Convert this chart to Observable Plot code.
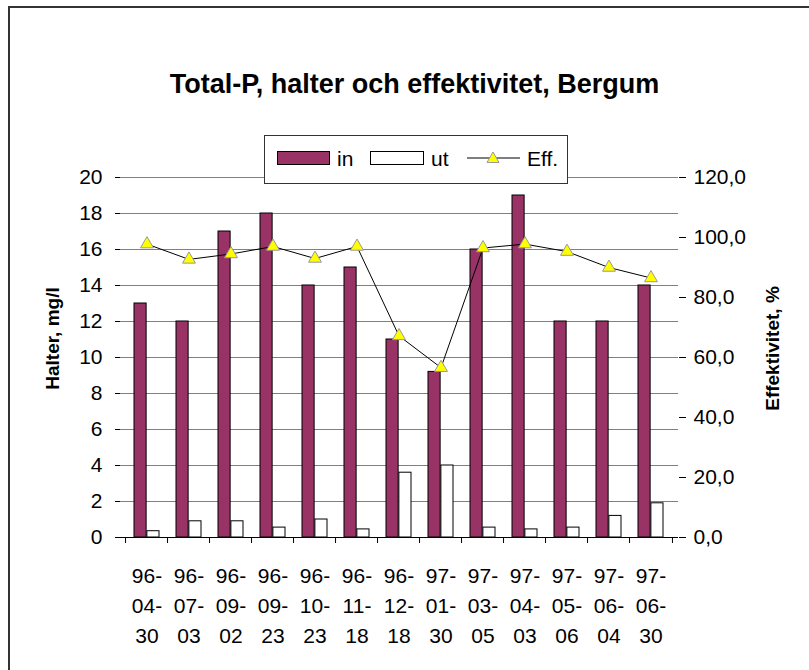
<!DOCTYPE html>
<html><head><meta charset="utf-8">
<script src="https://cdn.jsdelivr.net/npm/d3@7"></script>
<script src="https://cdn.jsdelivr.net/npm/@observablehq/plot@0.6"></script>
<style>
body{margin:0;background:#fff;font-family:"Liberation Sans",Arial,sans-serif;}
#wrap{position:relative;width:809px;height:670px;overflow:hidden;background:#fff;}
#frame{position:absolute;left:8px;top:6px;width:900px;height:800px;border-left:2px solid #333;border-top:2px solid #333;}
#chart{position:absolute;left:0;top:0;}
#overlay{position:absolute;left:0;top:0;}
</style></head>
<body>
<div id="wrap"><div id="frame"></div><div id="chart"></div>
<svg id="overlay" width="809" height="670" font-family="Liberation Sans, Arial, sans-serif">
  <text x="414.5" y="93" text-anchor="middle" font-weight="bold" font-size="27">Total-P, halter och effektivitet, Bergum</text>
  <rect x="264.5" y="135.5" width="303" height="48" fill="#fff" stroke="#333"/>
  <rect x="277.5" y="151.5" width="52" height="13" fill="#993366" stroke="#000"/>
  <text x="337" y="165.5" font-size="21">in</text>
  <rect x="370.5" y="151.5" width="53" height="13" fill="#fff" stroke="#000"/>
  <text x="431" y="165.5" font-size="21">ut</text>
  <line x1="467" x2="520" y1="158" y2="158" stroke="#000"/>
  <path d="M493,152 L499,162.5 L487,162.5 Z" fill="#ffff00" stroke="#999"/>
  <text x="527" y="165.5" font-size="21">Eff.</text>
</svg>
</div>
<script>
const dates = ["96-04-30","96-07-03","96-09-02","96-09-23","96-10-23","96-11-18","96-12-18","97-01-30","97-03-05","97-04-03","97-05-06","97-06-04","97-06-30"];
const inValues = [13, 12, 17, 18, 14, 15, 11, 9.2, 16, 19, 12, 12, 14];
const utValues = [0.35, 0.9, 0.9, 0.55, 1.0, 0.45, 3.6, 4.0, 0.55, 0.45, 0.55, 1.2, 1.9];
const effValues = [97.8, 92.7, 94.5, 97.0, 93.0, 97.0, 67.2, 56.6, 96.5, 97.8, 95.3, 90.0, 86.5];
const halterTicks = [0, 2, 4, 6, 8, 10, 12, 14, 16, 18, 20];
const effTicks = [0, 20, 40, 60, 80, 100, 120];
const leftLabel = "Halter, mg/l";
const rightLabel = "Effektivitet, %";

const W = 809, H = 670, mL = 120, mR = 131, mT = 177, mB = 133;
const halterMax = halterTicks[halterTicks.length - 1];
const effMax = effTicks[effTicks.length - 1];
const ratio = halterMax / effMax;
const step = (W - mL - mR) / dates.length;
const bw = step * (1 - 0.4);
const rows = dates.map((d, i) => ({date: d, in: inValues[i], ut: utValues[i], eff: effValues[i]}));

const chart = Plot.plot({
  width: W, height: H,
  marginLeft: mL, marginRight: mR, marginTop: mT, marginBottom: mB,
  style: {fontFamily: "Liberation Sans, Arial, sans-serif", fontSize: "21px", background: "transparent", color: "#000"},
  x: {type: "band", domain: dates, paddingInner: 0.4, paddingOuter: 0.2, axis: null},
  y: {domain: [0, halterMax], axis: null},
  marks: [
    Plot.gridY(halterTicks, {stroke: "#808080", strokeOpacity: 1}),
    Plot.barY(rows, {x: "date", y: "in", fill: "#993366", stroke: "#000", insetRight: bw / 2}),
    Plot.barY(rows, {x: "date", y: "ut", fill: "#fff", stroke: "#000", insetLeft: bw / 2}),
    Plot.ruleY([0], {stroke: "#000"}),
    Plot.axisY(halterTicks, {anchor: "left", tickSize: 5, tickPadding: 13, label: null, line: true, stroke: "#000"}),
    Plot.axisY(effTicks.map(v => v * ratio), {anchor: "right", tickSize: 7, tickPadding: 8, label: null, line: true, stroke: "#000",
      tickFormat: d => (d / ratio).toFixed(1).replace(".", ",")}),
    Plot.axisX({tickSize: 6, tickFormat: () => "", dx: -step / 2, label: null, stroke: "#000"}),
    Plot.axisX([dates[dates.length - 1]], {tickSize: 6, tickFormat: () => "", dx: step / 2, label: null, stroke: "#000"}),
    Plot.axisX({tickSize: 0, tickPadding: 24, lineHeight: 1.43, label: null,
      tickFormat: d => d.replace(/-/g, "-\n")}),
    Plot.line(rows, {x: "date", y: d => d.eff * ratio, stroke: "#000", strokeWidth: 1}),
    Plot.dot(rows, {x: "date", y: d => d.eff * ratio, symbol: "triangle", r: 4.8, fill: "#ffff00", stroke: "#999", strokeWidth: 1}),
    Plot.text([leftLabel], {frameAnchor: "left", textAnchor: "middle", rotate: -90, dx: -68, dy: -19, fontWeight: "bold", fontSize: 19}),
    Plot.text([rightLabel], {frameAnchor: "right", textAnchor: "middle", rotate: -90, dx: 94, dy: -9, fontWeight: "bold", fontSize: 19})
  ]
});
document.getElementById("chart").appendChild(chart);
</script>
</body></html>
